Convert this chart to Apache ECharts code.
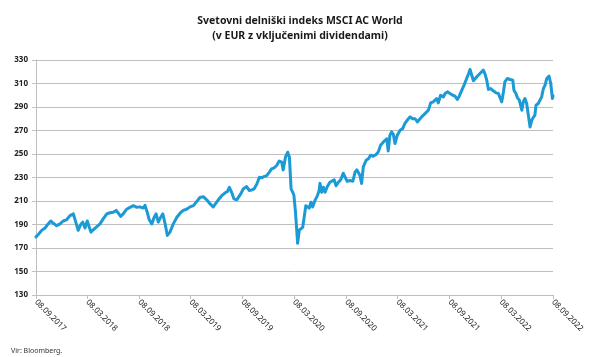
<!DOCTYPE html>
<html><head><meta charset="utf-8">
<script src="https://cdn.jsdelivr.net/npm/echarts@6/dist/echarts.min.js"></script>
<style>html,body{margin:0;padding:0;background:#fff}#c{width:600px;height:357px}</style>
</head><body><div id="c"></div>
<script>
const titleLines = ['Svetovni delniški indeks MSCI AC World', '(v EUR z vključenimi dividendami)'];
const sourceText = 'Vir: Bloomberg.';
const xTickDates = ['2017-09-08','2018-03-08','2018-09-08','2019-03-08','2019-09-08','2020-03-08','2020-09-08','2021-03-08','2021-09-08','2022-03-08','2022-09-08'];
const yTicks = [130,150,170,190,210,230,250,270,290,310,330];

const dates2017_2018 = ['2017-09-08','2017-09-16','2017-09-28','2017-10-10','2017-10-21','2017-10-30','2017-11-08','2017-11-20','2017-12-02','2017-12-13','2017-12-25','2017-12-31',
'2018-01-06','2018-01-18','2018-01-24','2018-02-04','2018-02-13','2018-02-20','2018-02-28','2018-03-08','2018-03-15','2018-03-21','2018-03-29','2018-04-10','2018-04-22','2018-05-04','2018-05-16','2018-05-27','2018-06-08','2018-06-18','2018-06-26','2018-07-04','2018-07-13','2018-07-25','2018-08-06','2018-08-18','2018-08-30','2018-09-10','2018-09-22','2018-09-28','2018-10-06','2018-10-13','2018-10-22','2018-10-30','2018-11-06','2018-11-14','2018-11-22','2018-11-30','2018-12-08','2018-12-16','2018-12-25'];
const values2017_2018 = [179.5,181.5,185,187,190.5,193,191,189,190.5,193,194,193,
197.6,199,199.6,185,190,192,187,193,192,183.5,185.5,188,190.5,195,199,200,200.4,202,199.6,196.8,199,203,204.6,206,204.6,205,204,206.3,200.4,194,190.5,196,199,192,196,199,190.5,180.7,183.5];

const dates2019 = ['2019-01-06','2019-01-18','2019-01-30','2019-02-10','2019-02-22','2019-03-06','2019-03-18','2019-03-30','2019-04-10','2019-04-22','2019-05-04','2019-05-16','2019-05-27','2019-06-02','2019-06-14','2019-06-26','2019-07-08','2019-07-16','2019-07-23','2019-07-31','2019-08-08','2019-08-18','2019-08-24','2019-09-01','2019-09-10','2019-09-22','2019-10-01','2019-10-10','2019-10-18','2019-10-28','2019-11-06','2019-11-14','2019-11-22','2019-12-02','2019-12-11','2019-12-19','2019-12-28'];
const values2019 = [190.5,196,199.6,202,203,205,206,209.7,213,213.7,211,207.5,205,206,211,214.5,217,218,221.7,217.4,211.8,211,209.8,216,220.3,222.3,219,219.4,220.3,224.5,230.2,229.7,230.8,231.6,234.5,237.3,238.2];

const dates2020 = ['2020-01-06','2020-01-15','2020-01-24','2020-01-29','2020-02-06','2020-02-14','2020-02-20','2020-02-26','2020-03-03','2020-03-07','2020-03-12','2020-03-17','2020-03-20','2020-03-26','2020-04-01','2020-04-07','2020-04-12','2020-04-18','2020-04-23','2020-04-30','2020-05-06','2020-05-12','2020-05-20','2020-05-29','2020-06-04','2020-06-07','2020-06-13','2020-06-19','2020-06-25','2020-07-03','2020-07-12','2020-07-19','2020-07-27','2020-08-03','2020-08-11','2020-08-19','2020-08-28','2020-09-04','2020-09-11','2020-09-21','2020-10-01','2020-10-09','2020-10-15','2020-10-20','2020-10-26','2020-11-01','2020-11-07','2020-11-17','2020-11-25','2020-12-03','2020-12-12','2020-12-22','2020-12-30'];
const values2020 = [240.2,244,243,236.5,247.3,251.5,247.3,220.3,217.4,214.6,201.8,184.8,174,185.3,187,187.6,196,206,207.5,204,209,205,210.3,214.6,218.9,225,217.4,221.7,217.4,222.3,226,224.5,228,223,226,228,233.6,230.2,226.8,227.4,226.8,234.5,236.5,234.5,232,225,239,244.7,246,249,248,249.5,251.8];

const dates2021 = ['2021-01-07','2021-01-17','2021-01-23','2021-01-29','2021-02-03','2021-02-09','2021-02-15','2021-02-21','2021-02-27','2021-03-07','2021-03-17','2021-03-26','2021-04-03','2021-04-11','2021-04-21','2021-04-30','2021-05-09','2021-05-17','2021-05-24','2021-06-01','2021-06-13','2021-06-25','2021-07-03','2021-07-12','2021-07-18','2021-07-24','2021-07-30','2021-08-07','2021-08-17','2021-08-23','2021-08-31','2021-09-09','2021-09-19','2021-09-27','2021-10-05','2021-10-12','2021-10-21','2021-10-29','2021-11-07','2021-11-14','2021-11-19','2021-11-25','2021-12-01','2021-12-07','2021-12-13','2021-12-18','2021-12-24','2021-12-30'];
const values2021 = [257.5,260.3,259.4,263,252.6,266,268.8,266.8,258.9,266,270.2,271.6,276,278.7,281.6,280,280,277.3,277.3,281.6,284.4,287.3,293.5,294.4,293.5,297.2,293.5,300,298.6,301.5,302.9,301.5,300,299.2,296.4,299.2,304.3,308.6,314.3,318.5,322,317,312.3,310.6,315.7,315,318.5,320];

const dates2022 = ['2022-01-05','2022-01-11','2022-01-17','2022-01-23','2022-01-31','2022-02-09','2022-02-19','2022-02-27','2022-03-05','2022-03-11','2022-03-17','2022-03-22','2022-03-31','2022-04-09','2022-04-19','2022-04-23','2022-04-30','2022-05-05','2022-05-12','2022-05-21','2022-05-26','2022-06-01','2022-06-07','2022-06-13','2022-06-19','2022-06-25','2022-06-30','2022-07-06','2022-07-10','2022-07-18','2022-07-24','2022-07-30','2022-08-05','2022-08-11','2022-08-17','2022-08-25','2022-08-31','2022-09-06','2022-09-08'];
const values2022 = [321.4,318,312.8,305,305.7,303.8,302,301.5,301.5,294.4,303,311.4,314.3,313.4,312.8,304.3,301.5,298,295.8,287.3,294.4,297.2,293,283,273,278.7,281,283,291.5,293,291.5,298.6,305.7,308.6,314.3,316.3,310,297.2,299.5];

function ts(s){ const p = s.split('-').map(Number); return new Date(p[0], p[1]-1, p[2]).getTime(); }
function fmt(v){ const d = new Date(v); const z = n => (n<10?'0':'')+n; return z(d.getDate())+'.'+z(d.getMonth()+1)+'.'+d.getFullYear(); }

const allDates = [].concat(dates2017_2018, dates2019, dates2020, dates2021, dates2022);
const allValues = [].concat(values2017_2018, values2019, values2020, values2021, values2022);
const seriesData = allDates.map((d, i) => [ts(d), allValues[i]]);
const xTicks = xTickDates.map(ts);

const chart = echarts.init(document.getElementById('c'), null, {renderer: 'canvas'});
chart.setOption({
  backgroundColor: '#fff',
  animation: false,
  title: [{
    text: titleLines.join('\n'),
    left: 'center', top: 9,
    textStyle: {fontFamily: 'Noto Sans', fontSize: 10.5, fontWeight: 'bold', color: '#1a1a1a', lineHeight: 15}
  }, {
    text: sourceText, left: 6, top: 342,
    textStyle: {fontFamily: 'Noto Sans', fontSize: 7, fontWeight: 'normal', color: '#333'}
  }],
  grid: {left: 36, right: 47, top: 60, bottom: 62, containLabel: false, outerBoundsMode: 'none'},
  xAxis: {
    type: 'value',
    min: xTicks[0], max: xTicks[xTicks.length-1],
    axisLine: {show: true, lineStyle: {color: '#bfbfbf', width: 1}},
    axisTick: {show: true, length: 4, lineStyle: {color: '#bfbfbf'}, customValues: xTicks},
    axisLabel: {
      customValues: xTicks, rotate: -45, formatter: fmt, margin: 6,
      fontFamily: 'Noto Sans', fontSize: 8, color: '#222'
    },
    splitLine: {show: false}
  },
  yAxis: {
    type: 'value', min: 130, max: 330,
    axisLine: {show: true, lineStyle: {color: '#bfbfbf', width: 1}},
    axisTick: {show: true, length: 4, lineStyle: {color: '#bfbfbf'}, customValues: yTicks},
    axisLabel: {customValues: yTicks, margin: 8, fontFamily: 'Noto Sans', fontSize: 8, fontWeight: 'bold', color: '#222'},
    splitLine: {show: true, lineStyle: {color: '#bfbfbf', width: 1}}
  },
  series: [{
    type: 'line', data: seriesData, showSymbol: false, symbol: 'none',
    lineStyle: {color: '#1b9ad6', width: 3, join: 'round', cap: 'round'},
    emphasis: {disabled: true}
  }]
});
</script>
</body></html>
